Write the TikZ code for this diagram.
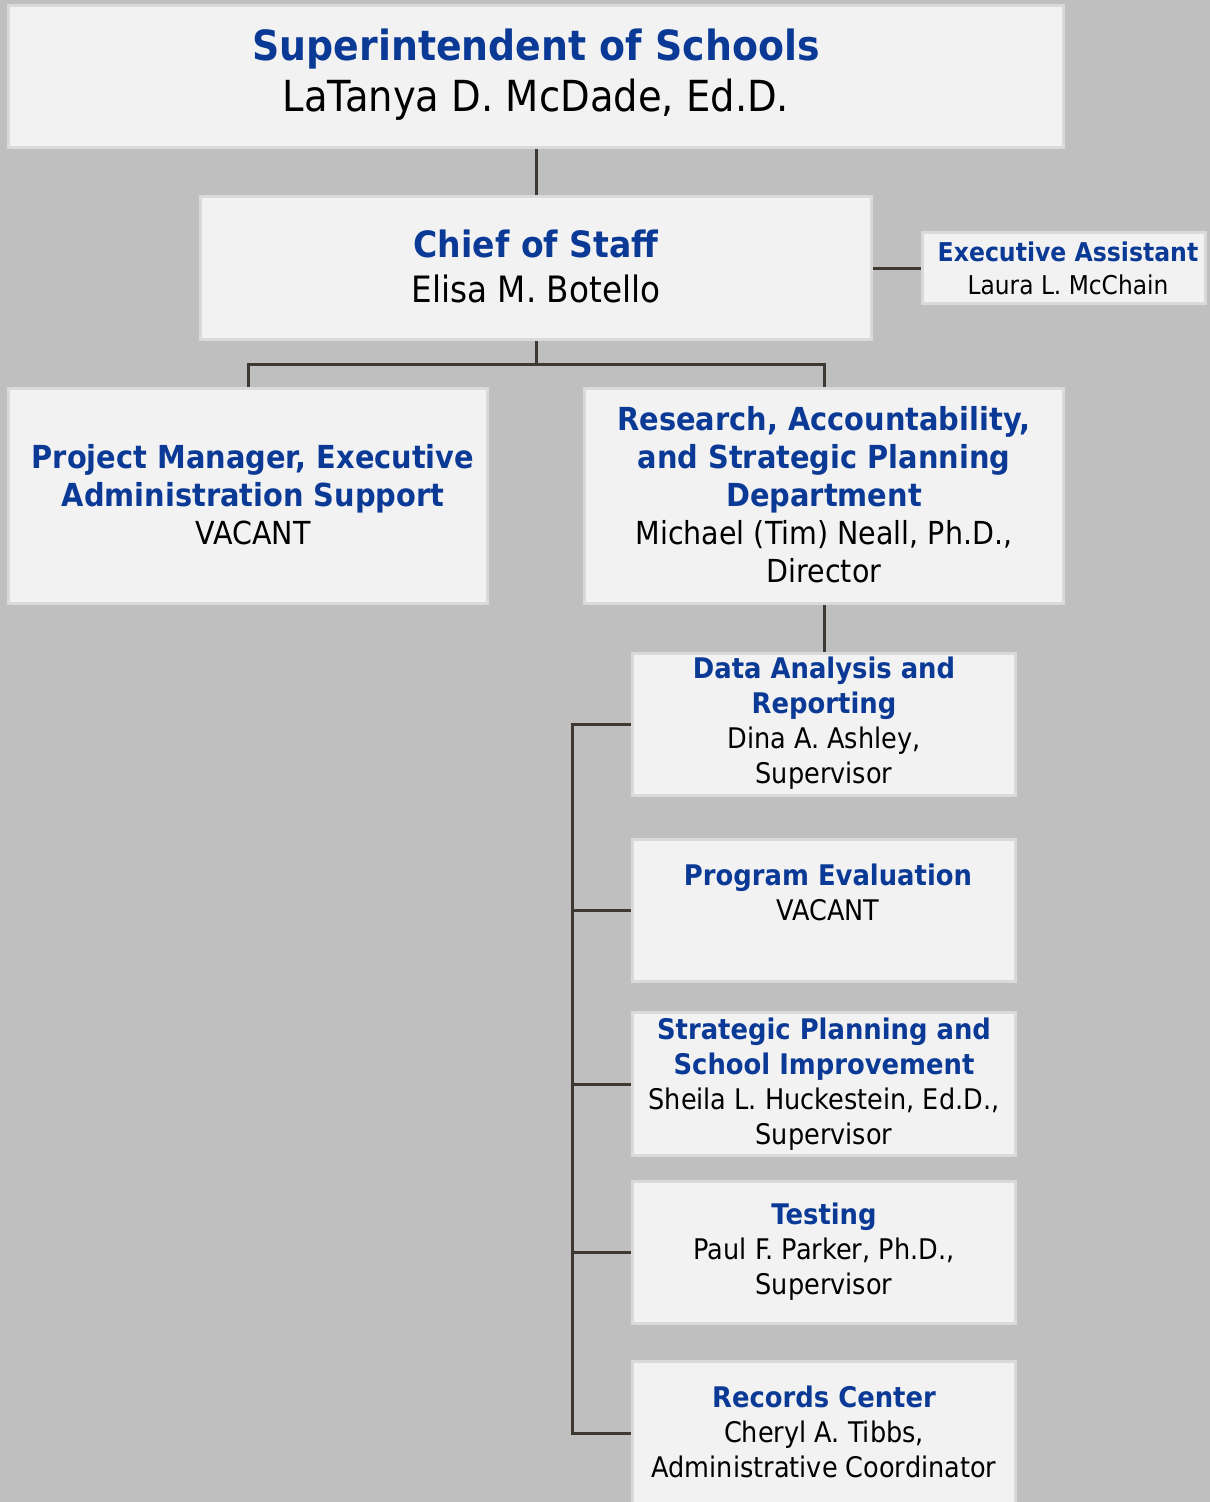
\documentclass[tikz,border=0pt]{standalone}
\usepackage{fontspec}
\setmainfont{DejaVu Sans}[FakeStretch=0.9]
\newfontfamily\bfam{DejaVu Sans Bold}[FakeStretch=0.91]
\definecolor{bgc}{HTML}{BFBFBF}
\definecolor{boxfill}{HTML}{F2F2F2}
\definecolor{boxline}{HTML}{D9D9D9}
\definecolor{conn}{HTML}{3E3833}
\definecolor{blu}{HTML}{0B3A96}
\newcommand\hd[1]{{\bfam\color{blu}#1}}
\tikzset{
  orgbox/.style={draw=boxline, fill=boxfill, line width=3pt, inner sep=0pt, rectangle},
  conline/.style={draw=conn, line width=3pt, line join=miter},
  txt/.style={align=center, inner sep=0pt, text=black},
  fA/.style={font=\fontsize{42.8}{51}\selectfont},
  fB/.style={font=\fontsize{36.3}{45}\selectfont},
  fC/.style={font=\fontsize{25.9}{33}\selectfont},
  fD/.style={font=\fontsize{31.7}{38}\selectfont},
  fE/.style={font=\fontsize{28.4}{35}\selectfont},
}
\begin{document}
\begin{tikzpicture}[x=1pt,y=-1pt]
\fill[bgc] (0,0) rectangle (1210,1502);
\useasboundingbox (0,0) rectangle (1210,1502);

% boxes
\node[orgbox, minimum width=1055pt, minimum height=142pt] (sup) at (536,76.5) {};
\node[orgbox, minimum width=671pt, minimum height=143pt] (chief) at (536,268) {};
\node[orgbox, minimum width=283pt, minimum height=71pt] (ea) at (1064,268) {};
\node[orgbox, minimum width=479pt, minimum height=215pt] (pm) at (248,496) {};
\node[orgbox, minimum width=479pt, minimum height=215pt] (res) at (824,496) {};
\node[orgbox, minimum width=383pt, minimum height=142pt] (data) at (824,724.5) {};
\node[orgbox, minimum width=383pt, minimum height=142pt] (pe) at (824,910.5) {};
\node[orgbox, minimum width=383pt, minimum height=143pt] (sp) at (824,1084) {};
\node[orgbox, minimum width=383pt, minimum height=142pt] (test) at (824,1252.5) {};
\node[orgbox, minimum width=383pt, minimum height=143pt] (rec) at (824,1433) {};

% connectors
\coordinate (j1) at (536,364);
\coordinate (bt) at (572,724.5);
\coordinate (bb) at (572,1433);
\draw[conline] (sup.south) -- (chief.north);
\draw[conline] (chief.east) -- (ea.west);
\draw[conline] (chief.south) -- (j1);
\draw[conline] (pm.north) |- (j1) -| (res.north);
\draw[conline] (res.south) -- (data.north);
\draw[conline] (data.west) -- (bt) -- (bb) -- (rec.west);
\draw[conline] (pe.west) -- (pe.west -| bt);
\draw[conline] (sp.west) -- (sp.west -| bt);
\draw[conline] (test.west) -- (test.west -| bt);

% texts
\node[txt, fA] (tsup) at (536,75) {{\fontsize{41.6}{51}\selectfont\hd{Superintendent of Schools}}\\LaTanya D. McDade, Ed.D.};
\node[txt, fB] (tchief) at (536,266) {\hd{Chief of Staff}\\Elisa M. Botello};
\node[txt, fC] (tea) at (1068,268) {\hd{Executive Assistant}\\Laura L. McChain};
\node[txt, fD] (tpm) at (253,495) {\hd{Project Manager, Executive}\\\hd{Administration Support}\\VACANT};
\node[txt, fD] (tres) at (824,495) {\hd{Research, Accountability,}\\\hd{and Strategic Planning}\\\hd{Department}\\Michael (Tim) Neall, Ph.D.,\\Director};
\node[txt, fE] (tdata) at (824,723) {\hd{Data Analysis and}\\\hd{Reporting}\\Dina A. Ashley,\\Supervisor};
\node[txt, fE] (tpe) at (828,892) {\hd{Program Evaluation}\\VACANT};
\node[txt, fE] (tsp) at (824,1084) {\hd{Strategic Planning and}\\\hd{School Improvement}\\Sheila L. Huckestein, Ed.D.,\\Supervisor};
\node[txt, fE] (ttest) at (824,1252) {\hd{Testing}\\Paul F. Parker, Ph.D.,\\Supervisor};
\node[txt, fE] (trec) at (824,1432) {\hd{Records Center}\\Cheryl A. Tibbs,\\Administrative Coordinator};
\end{tikzpicture}
\end{document}
